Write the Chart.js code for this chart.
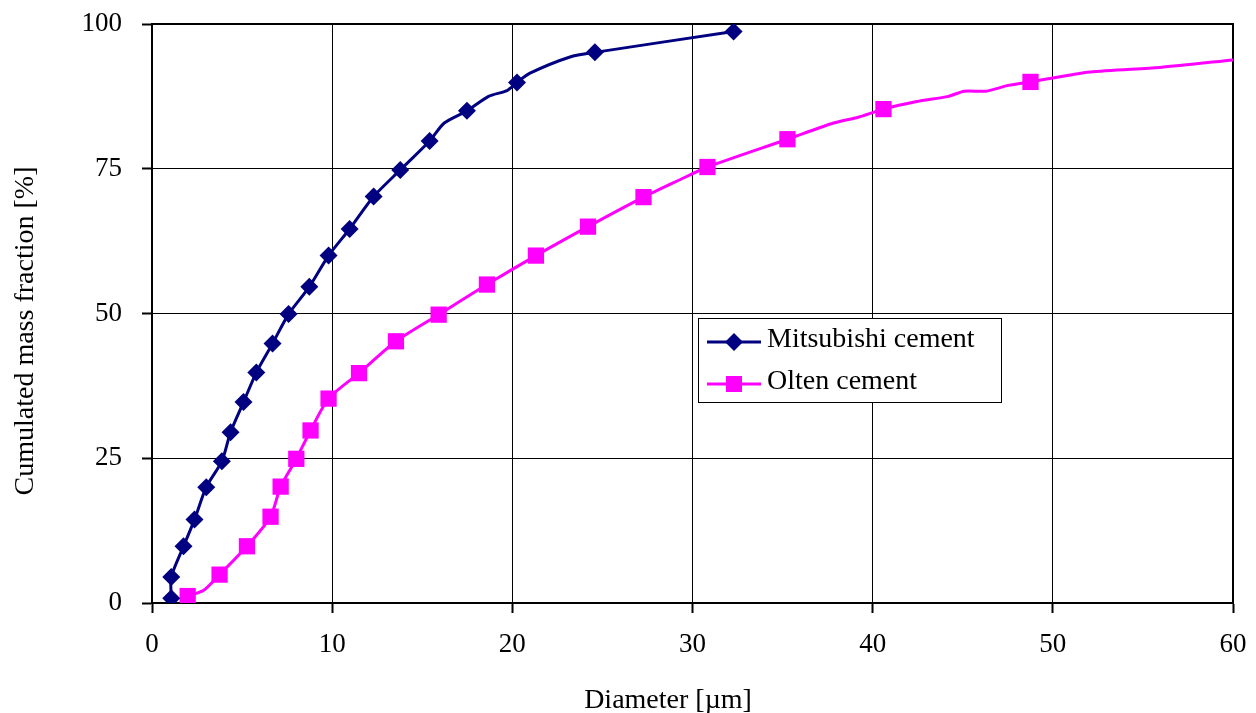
<!DOCTYPE html>
<html><head><meta charset="utf-8">
<script src="https://cdn.jsdelivr.net/npm/chart.js@4.4.1/dist/chart.umd.min.js"></script>
<style>html,body{margin:0;padding:0;background:#fff;} canvas{display:block;}</style>
</head><body>
<canvas id="c" width="1256" height="713"></canvas>
<script>
const seriesNames = ['Mitsubishi cement', 'Olten cement'];
const xTitle = 'Diameter [µm]';
const yTitle = 'Cumulated mass fraction [%]';
const xTicks = [0, 10, 20, 30, 40, 50, 60];
const yTicks = [0, 25, 50, 75, 100];

// Mitsubishi cement: points with markers
const mitsuMarkD = [1.07, 1.07, 1.75, 2.36, 3.01, 3.88, 4.36, 5.08, 5.79, 6.69, 7.58, 8.73, 9.80, 10.97, 12.30, 13.78, 15.41, 17.48, 20.26, 24.58, 32.28];
const mitsuMarkF = [0.8, 4.5, 9.8, 14.4, 20.0, 24.5, 29.5, 34.7, 39.8, 44.8, 49.9, 54.6, 60.0, 64.6, 70.2, 74.8, 79.8, 85.0, 89.9, 95.1, 98.7];
// Mitsubishi cement: intermediate points of the curve (no marker)
const mitsuLineD = [16.22, 18.68, 19.70, 20.98, 23.2];
const mitsuLineF = [82.9, 87.5, 88.5, 91.5, 94.3];

// Olten cement: points with markers
const oltenMarkD = [1.98, 3.75, 5.27, 6.58, 7.14, 8.01, 8.80, 9.80, 11.49, 13.54, 15.91, 18.59, 21.31, 24.20, 27.28, 30.83, 35.27, 40.60, 48.76];
const oltenMarkF = [1.2, 4.9, 9.8, 14.9, 20.1, 24.9, 29.8, 35.3, 39.7, 45.2, 49.8, 55.0, 60.0, 65.0, 70.1, 75.3, 80.1, 85.3, 90.0];
// Olten cement: intermediate points of the curve (no marker)
const oltenLineD = [2.87, 29.3, 37.83, 39.2, 42.45, 44.2, 45.08, 46.28, 47.54, 52.07, 55.95, 60.0];
const oltenLineF = [2.2, 73.1, 82.9, 83.9, 86.6, 87.5, 88.4, 88.4, 89.4, 91.7, 92.5, 93.8];

const colors = ['#000080', '#FF00FF'];
const FONT = 'Liberation Serif';

function pts(d, f) { return d.map((v, i) => ({x: v, y: f[i]})); }
function curve(d1, f1, d2, f2) {
  return pts(d1, f1).concat(pts(d2, f2)).sort((a, b) => a.x - b.x);
}

const frame = {
  id: 'frame',
  beforeDatasetsDraw(chart) {
    const a = chart.chartArea, ctx = chart.ctx;
    ctx.save();
    ctx.strokeStyle = '#000';
    ctx.lineWidth = 2;
    ctx.strokeRect(a.left, a.top, a.right - a.left, a.bottom - a.top);
    ctx.restore();
  },
  afterDraw(chart) {
    const ctx = chart.ctx;
    ctx.save();
    ctx.fillStyle = '#000';
    ctx.font = '28px "' + FONT + '"';
    ctx.textAlign = 'center';
    ctx.textBaseline = 'alphabetic';
    ctx.fillText(xTitle, 668, 708);
    ctx.translate(33, 331);
    ctx.rotate(-Math.PI / 2);
    ctx.fillText(yTitle, 0, 0);
    ctx.restore();

    // legend
    ctx.save();
    const bx = 698, by = 318, bw = 304, bh = 85;
    ctx.fillStyle = '#fff';
    ctx.fillRect(bx, by, bw, bh);
    ctx.strokeStyle = '#000';
    ctx.lineWidth = 1;
    ctx.strokeRect(bx + 0.5, by + 0.5, bw - 1, bh - 1);
    const rows = [342, 384];
    const bases = [347, 389];
    seriesNames.forEach((name, i) => {
      const y = rows[i];
      ctx.strokeStyle = colors[i];
      ctx.lineWidth = 3;
      ctx.beginPath();
      ctx.moveTo(707, y);
      ctx.lineTo(761, y);
      ctx.stroke();
      ctx.fillStyle = colors[i];
      ctx.beginPath();
      if (i === 0) {
        const r = 9;
        ctx.moveTo(734, y - r); ctx.lineTo(734 + r, y); ctx.lineTo(734, y + r); ctx.lineTo(734 - r, y);
        ctx.closePath();
      } else {
        ctx.rect(734 - 8, y - 8, 16, 16);
      }
      ctx.fill();
      ctx.fillStyle = '#000';
      ctx.font = '28px "' + FONT + '"';
      ctx.textAlign = 'left';
      ctx.textBaseline = 'alphabetic';
      ctx.fillText(name, 767, bases[i]);
    });
    ctx.restore();
  }
};

const tickFont = {family: FONT, size: 27};

new Chart(document.getElementById('c'), {
  type: 'scatter',
  data: {
    datasets: [
      {
        label: seriesNames[1],
        data: curve(oltenMarkD, oltenMarkF, oltenLineD, oltenLineF),
        showLine: true, borderColor: colors[1], borderWidth: 3, tension: 0.25,
        pointRadius: 0, pointHoverRadius: 0, fill: false, order: 4
      },
      {
        label: seriesNames[1] + ' markers',
        data: pts(oltenMarkD, oltenMarkF),
        showLine: false, pointStyle: 'rect', pointRadius: 11.5,
        backgroundColor: colors[1], borderColor: colors[1], borderWidth: 0, order: 3
      },
      {
        label: seriesNames[0],
        data: curve(mitsuMarkD, mitsuMarkF, mitsuLineD, mitsuLineF),
        showLine: true, borderColor: colors[0], borderWidth: 3, tension: 0.25,
        pointRadius: 0, pointHoverRadius: 0, fill: false, order: 2
      },
      {
        label: seriesNames[0] + ' markers',
        data: pts(mitsuMarkD, mitsuMarkF),
        showLine: false, pointStyle: 'rectRot', pointRadius: 9,
        backgroundColor: colors[0], borderColor: colors[0], borderWidth: 0, order: 1
      }
    ]
  },
  options: {
    responsive: false,
    animation: false,
    events: [],
    layout: {padding: {top: 24, right: 23, left: 0, bottom: 0}},
    plugins: {legend: {display: false}, tooltip: {enabled: false}, title: {display: false}},
    scales: {
      x: {
        type: 'linear', min: 0, max: 60,
        afterBuildTicks: s => { s.ticks = xTicks.map(v => ({value: v})); },
        afterFit: s => { s.height = 110; s.paddingLeft = 0; s.paddingRight = 0; },
        ticks: {font: tickFont, color: '#000', padding: 16, maxRotation: 0},
        grid: {color: '#000', lineWidth: 1, tickLength: 10, tickWidth: 2, tickColor: '#000'},
        border: {color: '#000', width: 2}
      },
      y: {
        type: 'linear', min: 0, max: 100,
        afterBuildTicks: s => { s.ticks = yTicks.map(v => ({value: v})); },
        afterFit: s => { s.width = 152; s.paddingTop = 0; s.paddingBottom = 0; },
        ticks: {font: tickFont, color: '#000', padding: 20},
        grid: {color: '#000', lineWidth: 1, tickLength: 10, tickWidth: 2, tickColor: '#000'},
        border: {color: '#000', width: 2}
      }
    }
  },
  plugins: [frame]
});
</script>
</body></html>
